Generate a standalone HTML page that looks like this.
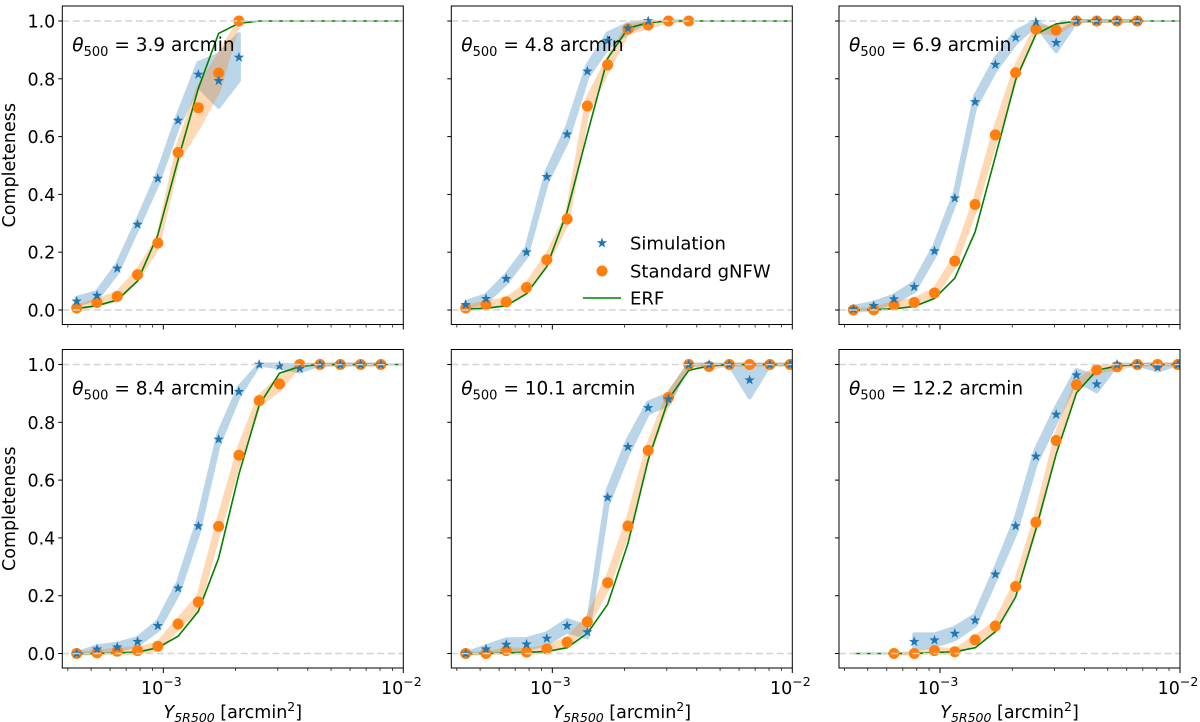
<!DOCTYPE html>
<html><head><meta charset="utf-8">
<style>
html,body{margin:0;padding:0;background:#fff;}
svg{display:block;font-family:"DejaVu Sans","Liberation Sans",sans-serif;}
</style></head>
<body>
<svg id="fig" width="1200" height="722" viewBox="0 0 1200 722" xmlns="http://www.w3.org/2000/svg"></svg>
<script>
// ---- data ----
const gridLog0 = -3.361, gridStep = 0.0845;
const thetas = ["3.9","4.8","6.9","8.4","10.1","12.2"];
const sim1 = [0.03,0.05,0.144,0.296,0.455,0.656,0.815,0.793,0.874];
const sim2 = [0.018,0.039,0.108,0.2,0.461,0.608,0.826,0.932,0.975,1.0];
const sim3 = [0.003,0.015,0.038,0.08,0.204,0.387,0.72,0.849,0.943,0.997,0.925,1,1,1,1];
const sim4 = [0,0.015,0.022,0.041,0.096,0.226,0.441,0.741,0.906,1.0,0.995,0.986,1,1,1,1];
const sim5 = [0,0.015,0.031,0.032,0.052,0.096,0.074,0.54,0.715,0.85,0.88,1,1,1,0.946,1,1];
const sim6 = [null,null,null,0.041,0.046,0.069,0.115,0.274,0.441,0.682,0.827,0.963,0.932,1,1,0.99,1];
const simErr1 = [0.012,0.012,0.015,0.015,0.018,0.02,0.04,0.09,0.08];
const simErr2 = [0.01,0.012,0.015,0.015,0.02,0.025,0.02,0.025,0.015,0];
const simErr3 = [0.008,0.01,0.012,0.015,0.018,0.018,0.02,0.02,0.02,0.01,0.03,0,0,0,0];
const simErr4 = [0,0.01,0.012,0.012,0.015,0.02,0.025,0.02,0.015,0,0.005,0.01,0,0,0,0];
const simErr5 = [0,0.01,0.018,0.018,0.018,0.02,0.018,0.025,0.025,0.018,0.018,0,0,0,0.06,0,0];
const simErr6 = [0,0,0,0.025,0.02,0.02,0.018,0.02,0.025,0.025,0.025,0.018,0.025,0,0,0.01,0];
const gnfw1 = [0.007,0.026,0.047,0.122,0.232,0.545,0.70,0.82,1.0];
const gnfw2 = [0.007,0.018,0.028,0.078,0.174,0.315,0.706,0.848,0.972,0.986,1,1];
const gnfw3 = [0,0.001,0.017,0.026,0.059,0.169,0.365,0.606,0.821,0.972,0.968,1,1,1,1];
const gnfw4 = [0,0.002,0.008,0.01,0.025,0.102,0.178,0.44,0.686,0.875,0.933,1,1,1,1,1];
const gnfw5 = [0,0,0.01,0.005,0.016,0.039,0.11,0.245,0.441,0.703,0.886,1,0.993,1,1,1,1];
const gnfw6 = [null,null,0,0,0.01,0.006,0.047,0.095,0.232,0.454,0.737,0.93,0.982,0.992,1,1,1];
const gnfwErr1 = [0.006,0.008,0.012,0.015,0.015,0.025,0.07,0.06,0];
const gnfwErr2 = [0.004,0.008,0.01,0.012,0.015,0.015,0.025,0.02,0.012,0.008,0,0];
const gnfwErr3 = [0,0.004,0.008,0.01,0.012,0.015,0.02,0.025,0.02,0.008,0.012,0,0,0,0];
const gnfwErr4 = [0,0.004,0.006,0.008,0.01,0.015,0.02,0.025,0.025,0.015,0.02,0,0,0,0,0];
const gnfwErr5 = [0,0,0.006,0.006,0.008,0.012,0.015,0.02,0.025,0.02,0.015,0,0.005,0,0,0,0];
const gnfwErr6 = [0,0,0,0,0.006,0.006,0.01,0.012,0.015,0.02,0.02,0.012,0.008,0.004,0,0,0];
const erf1 = [0.005,0.015,0.035,0.10,0.26,0.52,0.767,0.957,0.992,1,1,1,1,1,1,1,1];
const erf2 = [0.003,0.006,0.015,0.056,0.15,0.34,0.61,0.87,0.975,0.994,1,1,1,1,1,1,1];
const erf3 = [0,0.001,0.004,0.012,0.04,0.11,0.27,0.53,0.796,0.954,0.99,1,1,1,1,1,1];
const erf4 = [0,0,0.002,0.005,0.02,0.06,0.146,0.33,0.62,0.86,0.97,0.993,1,1,1,1,1];
const erf5 = [0,0,0.002,0.004,0.007,0.02,0.07,0.17,0.38,0.67,0.88,0.98,0.995,1,1,1,1];
const erf6 = [0,0,0,0,0.003,0.006,0.02,0.075,0.195,0.43,0.69,0.902,0.98,0.995,1,1,1];
const yTicks = [0,0.2,0.4,0.6,0.8,1.0];
const yTickLabels = ["0.0","0.2","0.4","0.6","0.8","1.0"];

const sims=[sim1,sim2,sim3,sim4,sim5,sim6], simErrs=[simErr1,simErr2,simErr3,simErr4,simErr5,simErr6];
const gnfws=[gnfw1,gnfw2,gnfw3,gnfw4,gnfw5,gnfw6], gnfwErrs=[gnfwErr1,gnfwErr2,gnfwErr3,gnfwErr4,gnfwErr5,gnfwErr6];
const erfs=[erf1,erf2,erf3,erf4,erf5,erf6];

const NS="http://www.w3.org/2000/svg";
const svg=document.getElementById('fig');
function mk(tag,attrs,parent){const e=document.createElementNS(NS,tag);for(const k in attrs)e.setAttribute(k,attrs[k]);(parent||svg).appendChild(e);return e;}

const lefts=[62.3,451.3,839], tops=[6,349.5], W=341, H=318.5;
const logMin=-3.421, logMax=-2;
const blue="#1f77b4", orange="#ff7f0e", green="#008000";

function starPath(cx,cy,r){let d="";for(let k=0;k<10;k++){const a=-Math.PI/2+k*Math.PI/5;const rr=k%2?r*0.4:r;d+=(k?"L":"M")+(cx+rr*Math.cos(a)).toFixed(2)+","+(cy+rr*Math.sin(a)).toFixed(2);}return d+"Z";}

for(let p=0;p<6;p++){
  const col=p%3,row=Math.floor(p/3);
  const L=lefts[col],T=tops[row];
  const g=mk('g',{});
  
  
  const xs=lg=>L+(lg-logMin)/(logMax-logMin)*W;
  const xi=i=>xs(gridLog0+gridStep*i);
  const y0=T+H-14.5, y1=T+15;
  const ys=v=>y0+(y1-y0)*v;
  const clip=mk('clipPath',{id:'c'+p},g);mk('rect',{x:L,y:T,width:W,height:H},clip);
  const plot=mk('g',{'clip-path':'url(#c'+p+')'},g);
  function band(vals,errs,color,name){
    const up=[],dn=[];
    vals.forEach((v,i)=>{if(v===null)return;const e=errs[i]||0;up.push([xi(i),ys(Math.min(1,v+e))]);dn.push([xi(i),ys(Math.max(0,v-e))]);});
    const pts=up.concat(dn.reverse()).map(q=>q[0].toFixed(1)+","+q[1].toFixed(1)).join(" ");
    const bg=mk('g',{opacity:0.3},plot);
    const b=mk('polygon',{points:pts,fill:color,stroke:color,'stroke-width':4,'stroke-linejoin':'round'},bg);
    
    
  }
  band(sims[p],simErrs[p],blue,'simulation-band');
  band(gnfws[p],gnfwErrs[p],orange,'gnfw-band');
  let d="";erfs[p].forEach((v,i)=>{d+=(i?"L":"M")+xi(i).toFixed(1)+","+ys(v).toFixed(1);});
  d+="L"+xs(logMax).toFixed(1)+","+ys(erfs[p][erfs[p].length-1]).toFixed(1);
  const el=mk('path',{d:d,fill:'none',stroke:green,'stroke-width':1.6},plot);
  
  
  gnfws[p].forEach((v,i)=>{if(v===null)return;const c=mk('circle',{cx:xi(i),cy:ys(v),r:5.5,fill:orange},plot);
    
    });
  sims[p].forEach((v,i)=>{if(v===null)return;const s=mk('path',{d:starPath(xi(i),ys(v),5.5),fill:blue},plot);
    
    });
  [0,1].forEach(v=>{const h=mk('line',{x1:L,x2:L+W,y1:ys(v),y2:ys(v),stroke:'#d3d3d3','stroke-width':1.5,'stroke-dasharray':'7 3.5'},plot);
    
    });
  const fr=mk('rect',{x:L,y:T,width:W,height:H,fill:'none',stroke:'#000','stroke-width':1},g);
  
  
  yTicks.forEach((v,k)=>{mk('line',{x1:L-4,x2:L,y1:ys(v),y2:ys(v),stroke:'#000','stroke-width':1},g);
    if(col===0){const t=mk('text',{x:L-7,y:ys(v)+6.5,'text-anchor':'end','font-size':17.5,fill:'#000'},g);t.textContent=yTickLabels[k];
      
      }});
  for(let dec=-4;dec<=-2;dec++){for(let m=1;m<10;m++){const lg=dec+Math.log10(m);if(lg<logMin-1e-6||lg>logMax+1e-6)continue;
    const major=m===1;mk('line',{x1:xs(lg),x2:xs(lg),y1:T+H,y2:T+H+(major?5:3),stroke:'#000','stroke-width':major?1:0.7},g);
    if(major&&row===1){const t=mk('text',{x:xs(lg)-2,y:T+H+26,'text-anchor':'middle','font-size':17.5,fill:'#000'},g);
      t.innerHTML='10<tspan dy="-8" font-size="12.5">−'+(-dec)+'</tspan>';
      
      }}}
  const an=mk('text',{x:L+10,y:T+45,'font-size':18.5,fill:'#000'},g);
  an.innerHTML='<tspan font-style="italic">θ</tspan><tspan dy="5" font-size="13">500</tspan><tspan dy="-5"> = '+thetas[p]+' arcmin</tspan>';
  
  
  if(row===1){const xl=mk('text',{x:L+W/2,y:T+H+50,'text-anchor':'middle','font-size':17.5,fill:'#000'},g);
    xl.innerHTML='<tspan font-style="italic">Y</tspan><tspan dy="4" font-size="12.5" font-style="italic">5R500</tspan><tspan dy="-4"> [arcmin</tspan><tspan dy="-7" font-size="12.5">2</tspan><tspan dy="7">]</tspan>';
    
    }
  if(col===0){const yl=mk('text',{x:0,y:0,'text-anchor':'middle','font-size':17.5,fill:'#000',transform:'translate(15,'+(T+H/2)+') rotate(-90)'},g);
    yl.textContent='Completeness';
    
    }
}
const lg=mk('g',{});


const e1=mk('path',{d:starPath(602,243,5.5),fill:blue},lg);


const e2=mk('circle',{cx:602,cy:271,r:5.5,fill:orange},lg);


const e3=mk('line',{x1:583,x2:621,y1:298,y2:298,stroke:green,'stroke-width':1.6},lg);


[["Simulation",249.5],["Standard gNFW",277.5],["ERF",304.5]].forEach(a=>{const t=mk('text',{x:630,y:a[1],'font-size':18,fill:'#000'},lg);t.textContent=a[0];
  
  });
</script>
</body></html>
